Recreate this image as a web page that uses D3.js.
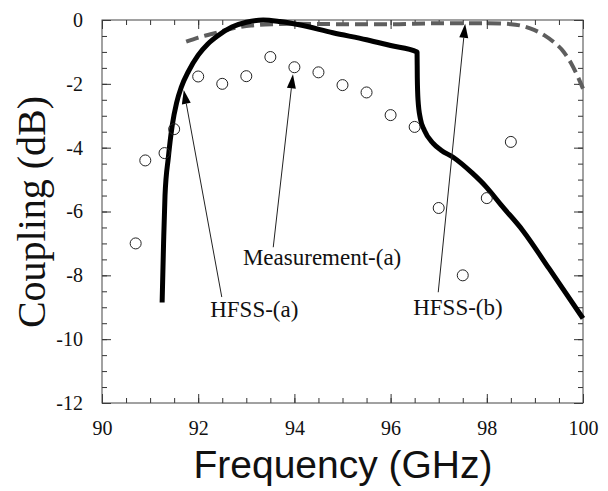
<!DOCTYPE html>
<html>
<head>
<meta charset="utf-8">
<script src="https://cdn.jsdelivr.net/npm/d3@7"></script>
<style>
  body { margin: 0; background: #fff; }
  svg { display: block; }
</style>
</head>
<body>
<div id="chart"></div>
<script>
// HFSS-(a), solid line
const hfssAFreq = [91.25, 91.28, 91.31, 91.38, 91.46, 91.55, 91.65, 91.8, 92.0, 92.2, 92.4, 92.7, 93.0, 93.35, 93.7, 94.1, 94.8, 95.5, 96.0, 96.55, 96.555, 96.57, 96.62, 96.7, 96.88, 97.05, 97.3, 97.7, 98.0, 98.3, 98.75, 99.3, 100];
const hfssAdB = [-8.85, -7.0, -5.5, -4.3, -3.3, -2.6, -2.1, -1.6, -1.1, -0.75, -0.5, -0.22, -0.07, 0, -0.05, -0.15, -0.4, -0.62, -0.8, -1.0, -1.8, -2.5, -3.1, -3.45, -3.86, -4.08, -4.3, -4.8, -5.25, -5.8, -6.6, -7.8, -9.35];

// HFSS-(b), dashed line
const hfssBFreq = [91.75, 92.0, 92.3, 92.7, 93.1, 93.6, 94.0, 95, 96, 97, 98, 98.5, 98.9, 99.2, 99.4, 99.6, 99.75, 99.9, 100];
const hfssBdB = [-0.68, -0.55, -0.43, -0.27, -0.17, -0.13, -0.12, -0.13, -0.13, -0.1, -0.1, -0.13, -0.26, -0.48, -0.7, -1.0, -1.35, -1.8, -2.15];

// Measurement-(a), circles
const measFreq = [90.7, 90.9, 91.3, 91.5, 92, 92.5, 93, 93.5, 94, 94.5, 95, 95.5, 96, 96.5, 97, 97.5, 98, 98.5];
const measdB = [-7.0, -4.4, -4.17, -3.42, -1.77, -2.0, -1.76, -1.16, -1.48, -1.64, -2.04, -2.27, -2.98, -3.35, -5.89, -8.0, -5.58, -3.82];

const xTicks = [90, 92, 94, 96, 98, 100];
const yTicks = [0, -2, -4, -6, -8, -10, -12];

// annotation labels: text anchor point and arrow tail/tip, in data units
const labels = [
  { text: 'HFSS-(a)', x: 92.25, y: -9.31, tail: [92.49, -8.68], tip: [91.7, -2.19] },
  { text: 'Measurement-(a)', x: 92.93, y: -7.68, tail: [93.56, -7.12], tip: [93.97, -1.7] },
  { text: 'HFSS-(b)', x: 96.47, y: -9.25, tail: [96.99, -8.53], tip: [97.55, -0.12] }
];

const serif = '"Liberation Serif", "Times New Roman", serif';

const W = 608, H = 491;
const margin = { top: 20, right: 25, bottom: 88, left: 102 };
const width = W - margin.left - margin.right;
const height = H - margin.top - margin.bottom;

const svg = d3.select('#chart').append('svg')
  .attr('width', W)
  .attr('height', H);

const g = svg.append('g')
  .attr('transform', `translate(${margin.left},${margin.top})`);

const x = d3.scaleLinear().domain([90, 100]).range([0, width]);
const y = d3.scaleLinear().domain([-12, 0]).range([height, 0]);

const minorX = d3.range(90, 100.01, 0.5);
const minorY = d3.range(-12, 0.01, 0.5);

// ticks on all four sides, pointing inward
const tickStyle = sel => {
  sel.attr('font-family', serif).attr('font-size', 20);
  sel.select('.domain').remove();
  sel.selectAll('.tick line').attr('stroke', '#333').attr('stroke-width', 1);
  sel.selectAll('.tick text').attr('fill', '#111');
};

g.append('g').attr('transform', `translate(0,${height})`)
  .call(d3.axisBottom(x).tickValues(minorX).tickSize(-5).tickFormat(''))
  .call(tickStyle);
g.append('g').attr('transform', `translate(0,${height})`)
  .call(d3.axisBottom(x).tickValues(xTicks).tickSize(-9).tickPadding(18).tickFormat(d => String(d)))
  .call(tickStyle);

g.append('g')
  .call(d3.axisTop(x).tickValues(minorX).tickSize(-5).tickFormat(''))
  .call(tickStyle);
g.append('g')
  .call(d3.axisTop(x).tickValues(xTicks).tickSize(-9).tickFormat(''))
  .call(tickStyle);

g.append('g')
  .call(d3.axisLeft(y).tickValues(minorY).tickSize(-5).tickFormat(''))
  .call(tickStyle);
g.append('g')
  .call(d3.axisLeft(y).tickValues(yTicks).tickSize(-9).tickPadding(19).tickFormat(d => String(d)))
  .call(tickStyle);

g.append('g').attr('transform', `translate(${width},0)`)
  .call(d3.axisRight(y).tickValues(minorY).tickSize(-5).tickFormat(''))
  .call(tickStyle);
g.append('g').attr('transform', `translate(${width},0)`)
  .call(d3.axisRight(y).tickValues(yTicks).tickSize(-9).tickFormat(''))
  .call(tickStyle);

// frame
g.append('rect')
  .attr('width', width)
  .attr('height', height)
  .attr('fill', 'none')
  .attr('stroke', '#444')
  .attr('stroke-width', 1);

const line = d3.line()
  .x(d => x(d[0]))
  .y(d => y(d[1]))
  .curve(d3.curveMonotoneX);

// dashed HFSS-(b)
g.append('path')
  .datum(d3.zip(hfssBFreq, hfssBdB))
  .attr('d', line)
  .attr('fill', 'none')
  .attr('stroke', '#5e5e5e')
  .attr('stroke-width', 4)
  .attr('stroke-dasharray', '13,6');

// solid HFSS-(a)
g.append('path')
  .datum(d3.zip(hfssAFreq, hfssAdB))
  .attr('d', line)
  .attr('fill', 'none')
  .attr('stroke', '#000')
  .attr('stroke-width', 5)
  .attr('stroke-linejoin', 'round');

// measurement circles
g.selectAll('.meas')
  .data(d3.zip(measFreq, measdB))
  .enter()
  .append('circle')
  .attr('class', 'meas')
  .attr('cx', d => x(d[0]))
  .attr('cy', d => y(d[1]))
  .attr('r', 5.5)
  .attr('fill', 'none')
  .attr('stroke', '#222')
  .attr('stroke-width', 1);

// annotations with arrows
labels.forEach(l => {
  const x0 = x(l.tail[0]), y0 = y(l.tail[1]);
  const x1 = x(l.tip[0]), y1 = y(l.tip[1]);
  const ang = Math.atan2(y1 - y0, x1 - x0);
  const len = 14, half = 4.5;
  const bx = x1 - len * Math.cos(ang), by = y1 - len * Math.sin(ang);

  g.append('line')
    .attr('x1', x0).attr('y1', y0)
    .attr('x2', bx).attr('y2', by)
    .attr('stroke', '#222')
    .attr('stroke-width', 1);

  g.append('polygon')
    .attr('points', [
      [x1, y1],
      [bx + half * Math.sin(ang), by - half * Math.cos(ang)],
      [bx - half * Math.sin(ang), by + half * Math.cos(ang)]
    ].map(p => p.join(',')).join(' '))
    .attr('fill', '#000');

  g.append('text')
    .attr('x', x(l.x))
    .attr('y', y(l.y))
    .attr('font-family', serif)
    .attr('font-size', 23)
    .attr('fill', '#111')
    .text(l.text);
});

// axis titles
svg.append('text')
  .attr('transform', `translate(45,212) rotate(-90)`)
  .attr('text-anchor', 'middle')
  .attr('font-family', serif)
  .attr('font-size', 40)
  .attr('fill', '#111')
  .text('Coupling (dB)');

svg.append('text')
  .attr('x', 343)
  .attr('y', 478)
  .attr('text-anchor', 'middle')
  .attr('font-family', '"Liberation Sans", Arial, sans-serif')
  .attr('font-size', 39)
  .attr('fill', '#111')
  .text('Frequency (GHz)');
</script>
</body>
</html>
